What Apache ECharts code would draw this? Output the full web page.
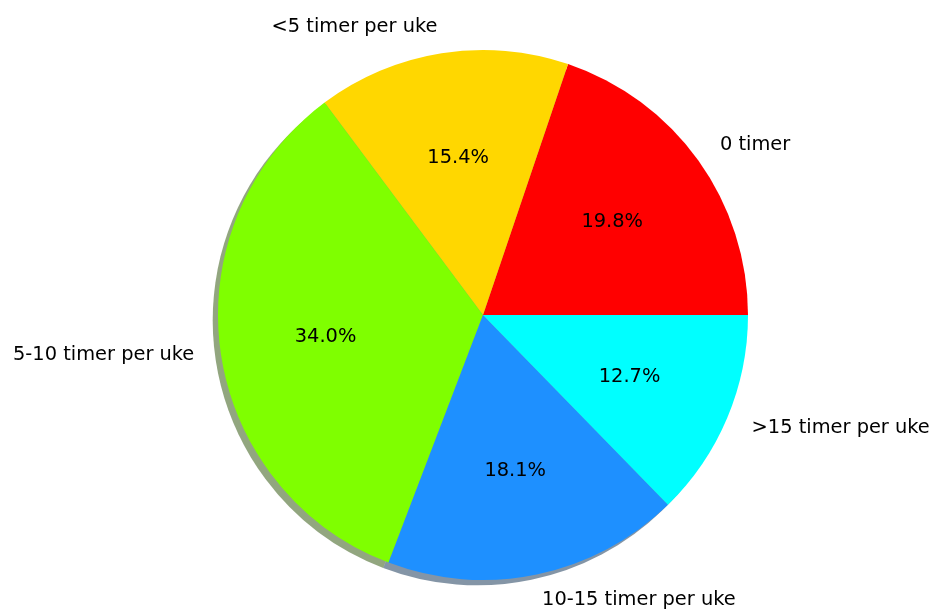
<!DOCTYPE html>
<html><head><meta charset="utf-8">
<script src="https://cdn.jsdelivr.net/npm/echarts@6/dist/echarts.min.js"></script>
<style>html,body{margin:0;padding:0;background:#fff}#c{width:932px;height:610px}</style>
</head><body><div id="c"></div>
<script>
const categories = ['0 timer', '<5 timer per uke', '5-10 timer per uke', '10-15 timer per uke', '>15 timer per uke'];
const values = [19.8, 15.4, 34.0, 18.1, 12.7];
const colors = ['#ff0000', '#ffd700', '#7fff00', '#1e90ff', '#00ffff'];

const R = 265, CX = 483, CY = 315, PAD = 300;
const FONT = '"DejaVu Sans"';
const FS = 19.4;

function shadowColor(hex) {
  const n = parseInt(hex.slice(1), 16);
  const r = ((n >> 16) & 255) * 0.3, g = ((n >> 8) & 255) * 0.3, b = (n & 255) * 0.3;
  return `rgba(${r.toFixed(1)},${g.toFixed(1)},${b.toFixed(1)},0.5)`;
}

const common = {
  type: 'pie', startAngle: 0, clockwise: false, avoidLabelOverlap: false,
  left: -PAD, right: -PAD, top: 0, bottom: 0,
  animation: false, silent: true, minAngle: 0,
  emphasis: { disabled: true }
};

const chart = echarts.init(document.getElementById('c'), null, { renderer: 'canvas' });
chart.setOption({
  backgroundColor: '#ffffff',
  series: [
    Object.assign({}, common, {
      name: 'shadow', z: 1,
      center: [CX + PAD - R * 0.02, CY + R * 0.02], radius: R,
      label: { show: false }, labelLine: { show: false },
      data: values.map((v, i) => ({ name: categories[i], value: v, itemStyle: { color: shadowColor(colors[i]), borderWidth: 0 } }))
    }),
    Object.assign({}, common, {
      name: 'main', z: 2,
      center: [CX + PAD, CY], radius: R,
      label: { show: true, position: 'outside', formatter: '{b}', color: '#000', fontFamily: FONT, fontSize: FS, distanceToLabelLine: 0, overflow: 'none' },
      labelLine: { show: false, length: R * 0.1, length2: 0 },
      data: values.map((v, i) => ({ name: categories[i], value: v, itemStyle: { color: colors[i], borderWidth: 0 } }))
    }),
    Object.assign({}, common, {
      name: 'pct', z: 3,
      center: [CX + PAD, CY], radius: R * 1.2 - 6,
      label: { show: true, position: 'inside', formatter: p => p.value.toFixed(1) + '%', color: '#000', fontFamily: FONT, fontSize: FS },
      labelLine: { show: false },
      itemStyle: { color: 'rgba(0,0,0,0)' },
      data: values.map((v, i) => ({ name: categories[i], value: v }))
    })
  ]
});
</script></body></html>
